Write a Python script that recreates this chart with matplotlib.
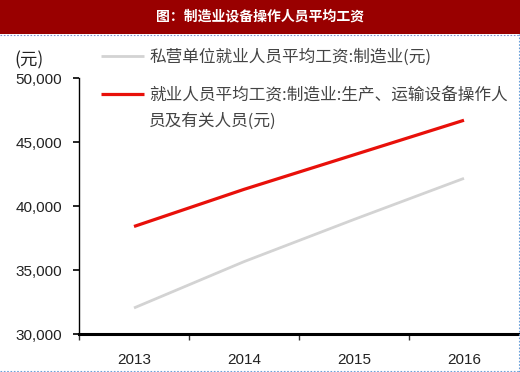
import matplotlib
matplotlib.use("Agg")
import matplotlib.pyplot as plt
from matplotlib.patches import Rectangle
from matplotlib.lines import Line2D
from matplotlib.ticker import FuncFormatter, FixedLocator

plt.rcParams['font.family'] = ['Noto Sans CJK SC', 'DejaVu Sans']

years = ["2013", "2014", "2015", "2016"]
private_wage = [32035, 35653, 38948, 42161]
operator_wage = [38400, 41300, 44000, 46700]
label_private = "私营单位就业人员平均工资:制造业(元)"
label_operator_l1 = "就业人员平均工资:制造业:生产、运输设备操作人"
label_operator_l2 = "员及有关人员(元)"
title = "图：制造业设备操作人员平均工资"
y_unit = "(元)"
y_ticks = [30000, 35000, 40000, 45000, 50000]

W, H = 520, 372
fig = plt.figure(figsize=(W / 100, H / 100), dpi=100)
fig.patch.set_facecolor("white")

# title banner
fig.add_artist(Rectangle((0, 1 - 34 / H), 1, 34 / H, transform=fig.transFigure,
                         facecolor="#990000", edgecolor="none", zorder=0))
fig.text(0.5, 1 - 17 / H, title, color="white", fontsize=10, fontweight="bold",
         ha="center", va="center")
# dotted border
fig.add_artist(Line2D([0, 1], [1 - 34.5 / H] * 2, transform=fig.transFigure,
                      color="#7f8fd0", lw=0.8, ls=(0, (1.5, 1.5))))
fig.add_artist(Line2D([518.5 / W] * 2, [0, 1 - 34 / H], transform=fig.transFigure,
                      color="#6a9fd8", lw=0.8, ls=(0, (1.5, 1.5))))
fig.add_artist(Line2D([0, 518.5 / W], [1.5 / H] * 2, transform=fig.transFigure,
                      color="#6a9fd8", lw=0.8, ls=(0, (1.5, 1.5))))

ax = fig.add_axes([79 / W, 1 - 334 / H, (519 - 79) / W, (334 - 78) / H])
x = list(range(len(years)))
ax.plot(x, private_wage, color="#d3d3d3", lw=2.0, label=label_private,
        solid_capstyle="butt")
ax.plot(x, operator_wage, color="#e8100a", lw=2.3, label=label_operator_l1,
        solid_capstyle="butt")

ax.set_xlim(-0.5, 3.5)
ax.set_ylim(30000, 50000)
ax.set_yticks(y_ticks)
ax.yaxis.set_major_formatter(FuncFormatter(lambda v, p: f"{int(v):,}"))
ax.set_xticks(x)
ax.set_xticklabels(years)
ax.xaxis.set_minor_locator(FixedLocator([-0.5, 0.5, 1.5, 2.5]))
ax.tick_params(axis="x", which="major", length=0, pad=14)
ax.tick_params(axis="x", which="minor", length=4, width=1, color="#333333")
ax.tick_params(axis="y", length=4, width=1.2, color="black", pad=8)
for lab in ax.get_xticklabels() + ax.get_yticklabels():
    lab.set_family(["Liberation Sans", "DejaVu Sans"])
    lab.set_fontsize(11)
    lab.set_color("#222222")

for s in ["top", "right"]:
    ax.spines[s].set_visible(False)
ax.spines["left"].set_linewidth(1.0)
ax.spines["bottom"].set_linewidth(2.2)

fig.text(14 / W, 1 - 60 / H, y_unit, fontsize=12.5, color="#222222",
         ha="left", va="center")

leg = ax.legend(loc="upper left", bbox_to_anchor=(101 / W, 1 - 48.5 / H),
                bbox_transform=fig.transFigure, frameon=False,
                handlelength=2.6, handletextpad=0.3, labelspacing=1.25,
                prop={"size": 12}, borderpad=0, borderaxespad=0)
for t in leg.get_texts():
    t.set_color("#444444")

# continuation line of the second legend label, placed under its first line
fig.canvas.draw()
bb = leg.get_texts()[1].get_window_extent()
fig.text(bb.x0 / W, (bb.y0 + bb.y1) / 2 / H - 26 / H, label_operator_l2,
         fontsize=12, color="#444444", ha="left", va="center")

fig.savefig("out.png", dpi=100, facecolor="white")
